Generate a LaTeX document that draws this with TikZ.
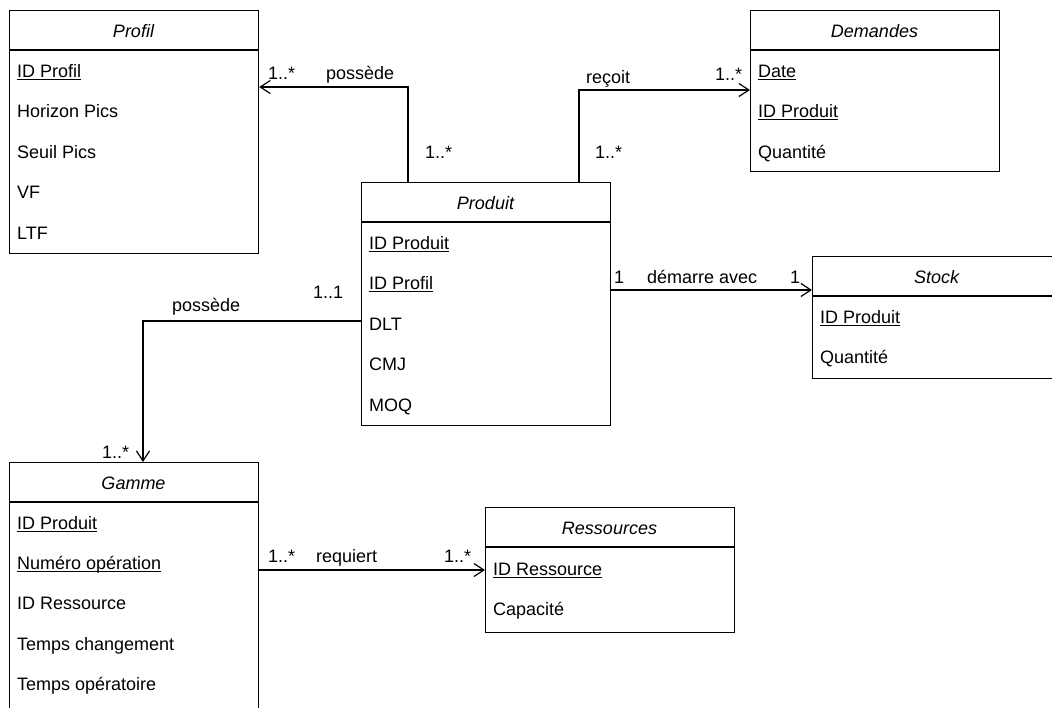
\documentclass[tikz,border=0pt]{standalone}
\usepackage{fontspec}
\setmainfont{Liberation Sans}
\usetikzlibrary{arrows.meta}
\newcommand\myul[1]{\setbox0\hbox{#1}\rlap{\rule[-2.6pt]{\wd0}{1pt}}\box0}
\newcommand\diagfont{\fontsize{18}{21}\selectfont}
\tikzset{
  classbox/.style={draw, line width=1.2pt, rectangle, inner sep=0pt, anchor=north west, minimum width=249pt},
  title/.style={anchor=base, inner sep=0pt, font=\diagfont\itshape},
  attr/.style={anchor=base west, inner sep=0pt},
  lbl/.style={anchor=base west, inner sep=0pt},
  assoc/.style={line width=1.2pt, -{Straight Barb[length=10pt,width=13pt]}},
  hline/.style={line width=1.2pt}
}
\begin{document}
\begin{tikzpicture}[x=1pt,y=-1pt,font=\diagfont]
\useasboundingbox (0,0) rectangle (1052,707);
\clip (0,0) rectangle (1052,707);
\fill[white] (0,0) rectangle (1052,707);

% ---------- classes ----------
\node[classbox, minimum height=243pt] (profil) at (9,10) {};
\node[classbox, minimum height=161pt] (demandes) at (750,10) {};
\node[classbox, minimum height=243pt] (produit) at (361,182) {};
\node[classbox, minimum height=122pt] (stock) at (812,256) {};
\node[classbox, minimum height=270pt] (gamme) at (9,462) {};
\node[classbox, minimum height=125pt] (ressources) at (485,507) {};

\foreach \c/\t in {profil/Profil,demandes/Demandes,produit/Produit,stock/Stock,gamme/Gamme,ressources/Ressources}{
  \draw[hline] ([yshift=-40pt]\c.north west) -- ([yshift=-40pt]\c.north east);
  \node[title] (\c-title) at ([xshift=124.5pt,yshift=-27pt]\c.north west) {\t};
}

\foreach [count=\i from 0] \t in {{\myul{ID Profil}},{Horizon Pics},{Seuil Pics},{VF},{LTF}}
  \node[attr] (profil-r\i) at ([xshift=8pt,yshift={-(67+40.6*\i)*1pt}]profil.north west) {\t};
\foreach [count=\i from 0] \t in {{\myul{Date}},{\myul{ID Produit}},{Quantité}}
  \node[attr] (demandes-r\i) at ([xshift=8pt,yshift={-(67+40.6*\i)*1pt}]demandes.north west) {\t};
\foreach [count=\i from 0] \t in {{\myul{ID Produit}},{\myul{ID Profil}},{DLT},{CMJ},{MOQ}}
  \node[attr] (produit-r\i) at ([xshift=8pt,yshift={-(67+40.6*\i)*1pt}]produit.north west) {\t};
\foreach [count=\i from 0] \t in {{\myul{ID Produit}},{Quantité}}
  \node[attr] (stock-r\i) at ([xshift=8pt,yshift={-(67+40.6*\i)*1pt}]stock.north west) {\t};
\foreach [count=\i from 0] \t in {{\myul{ID Produit}},{\myul{Numéro opération}},{ID Ressource},{Temps changement},{Temps opératoire}}
  \node[attr] (gamme-r\i) at ([xshift=8pt,yshift={-(67+40.4*\i)*1pt}]gamme.north west) {\t};
\foreach [count=\i from 0] \t in {{\myul{ID Ressource}},{Capacité}}
  \node[attr] (ressources-r\i) at ([xshift=8pt,yshift={-(68+40.6*\i)*1pt}]ressources.north west) {\t};

% ---------- connectors ----------
\draw[assoc] ([xshift=47pt]produit.north west) |- ([yshift=-77pt]profil.north east);
\node[lbl] (l1a) at (268,79) {1..*};
\node[lbl] (l1b) at (326,79) {possède};
\node[lbl] (l1c) at (425,158) {1..*};

\draw[assoc] ([xshift=218pt]produit.north west) |- ([yshift=-80pt]demandes.north west);
\node[lbl] (l2a) at (586,83) {reçoit};
\node[lbl] (l2b) at (715,80) {1..*};
\node[lbl] (l2c) at (595,158) {1..*};

\draw[assoc] ([yshift=-108pt]produit.north east) -- ([yshift=-34pt]stock.north west);
\node[lbl] (l3a) at (614,283) {1};
\node[lbl] (l3b) at (647,283) {démarre avec};
\node[lbl] (l3c) at (790,283) {1};

\draw[assoc] ([yshift=-139pt]produit.north west) -| ([xshift=134pt]gamme.north west);
\node[lbl] (l4a) at (172,311) {possède};
\node[lbl] (l4b) at (313,298) {1..1};
\node[lbl] (l4c) at (102,458) {1..*};

\draw[assoc] ([yshift=-108pt]gamme.north east) -- ([yshift=-63pt]ressources.north west);
\node[lbl] (l5a) at (268,562) {1..*};
\node[lbl] (l5b) at (316,562) {requiert};
\node[lbl] (l5c) at (444,562) {1..*};
\end{tikzpicture}
\end{document}
